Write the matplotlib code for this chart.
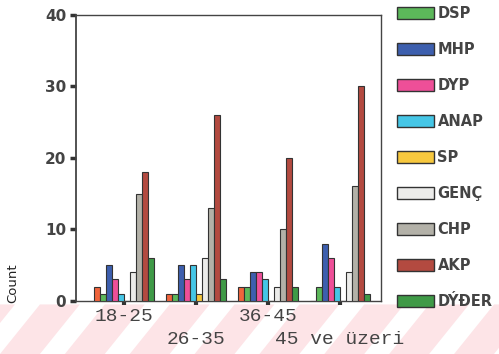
import numpy as np
import matplotlib
matplotlib.use("Agg")
from matplotlib import pyplot as plt
from matplotlib.patches import Patch, Polygon

# age groups on the x axis
groups = ["18-25", "26-35", "36-45", "45 ve üzeri"]

# party series (first one has no legend entry in the picture)
parties = ["", "DSP", "MHP", "DYP", "ANAP", "SP", "GENÇ", "CHP", "AKP", "DÝÐER"]
colors = ["#f0643c", "#5cb85a", "#3d5fae", "#ee4f98", "#45c6e6",
          "#f7c83e", "#ececea", "#b3b1a8", "#b34a40", "#3f9a47"]

unnamed = [2, 1, 2, 0]
dsp = [1, 1, 2, 2]
mhp = [5, 5, 4, 8]
dyp = [3, 3, 4, 6]
anap = [1, 5, 3, 2]
sp = [0, 1, 0, 0]
genc = [4, 6, 2, 4]
chp = [15, 13, 10, 16]
akp = [18, 26, 20, 30]
diger = [6, 3, 2, 1]

series = [unnamed, dsp, mhp, dyp, anap, sp, genc, chp, akp, diger]

fig = plt.figure(figsize=(4.99, 3.54), dpi=100)

# faint pink watermark stripes at the bottom, behind everything
for i in range(-2, 9):
    x0 = i * 0.13
    fig.patches.append(Polygon([(x0, 0.0), (x0 + 0.08, 0.0), (x0 + 0.16, 0.14), (x0 + 0.08, 0.14)],
                               closed=True, transform=fig.transFigure,
                               facecolor="#fde4e7", edgecolor="none", zorder=-5))

ax = fig.add_axes([0.152, 0.150, 0.611, 0.808])
x = np.arange(len(groups))
w = 0.084
for i, vals in enumerate(series):
    ax.bar(x + (i - 4.5) * w, vals, w, color=colors[i],
           edgecolor="#333333", linewidth=0.8, zorder=3)

ax.set_xlim(-0.67, 3.57)
ax.set_ylim(0, 40)
ax.set_yticks([0, 10, 20, 30, 40])
ax.tick_params(axis="y", length=4, width=2.5, color="#333333", labelsize=11,
               labelcolor="#444444", pad=3)
for lab in ax.get_yticklabels():
    lab.set_fontweight("bold")

# staggered group labels
mono = dict(family="Liberation Mono", fontsize=14, color="#444444")
ax.set_xticks([0, 2])
ax.set_xticklabels([groups[0], groups[2]], **mono)
ax.set_xticks([1, 3], minor=True)
ax.set_xticklabels([groups[1], groups[3]], minor=True, **mono)
ax.tick_params(axis="x", which="major", length=3, width=3, color="#333333", pad=2)
ax.tick_params(axis="x", which="minor", length=3, width=3, color="#333333", pad=19)

for s in ax.spines.values():
    s.set_color("#444444")
    s.set_linewidth(1.0)
ax.spines["left"].set_linewidth(1.3)

fig.text(0.026, 0.20, "Count", rotation=90, fontsize=9.5, color="#222222",
         ha="center", va="center")

handles = [Patch(facecolor=colors[i], edgecolor="#333333", linewidth=1.0, label=parties[i])
           for i in range(1, len(parties))]
leg = fig.legend(handles=handles, loc="upper left", bbox_to_anchor=(0.77, 1.02),
                 frameon=False, handlelength=2.5, handleheight=0.8,
                 handletextpad=0.25, labelspacing=1.44,
                 prop={"weight": "bold", "size": 10.5})
for t in leg.get_texts():
    t.set_color("#444444")

fig.savefig("out.png", dpi=100)
